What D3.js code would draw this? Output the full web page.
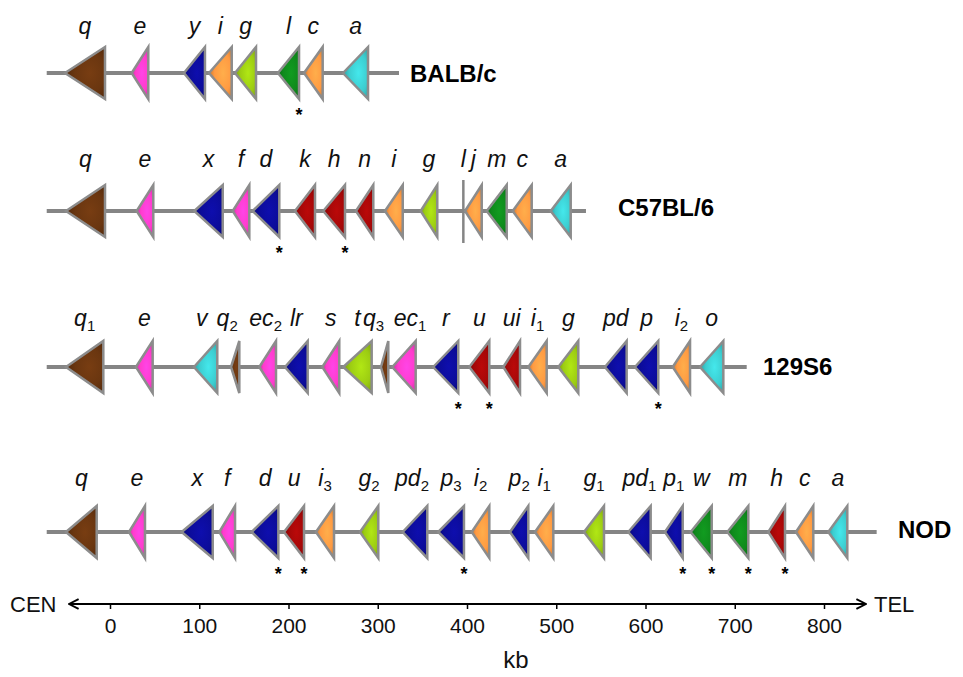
<!DOCTYPE html>
<html><head><meta charset="utf-8">
<script src="https://cdn.jsdelivr.net/npm/d3@7"></script>
<style>
html,body{margin:0;padding:0;background:#fff;}
svg{display:block;font-family:"Liberation Sans",Arial,sans-serif;}
</style></head>
<body><svg id="chart" width="963" height="677"></svg>
<script>
// ---------- DATA (kb) ----------
// gene: [name, subscript, family, start kb, end kb, star]
const strains = ["BALB/c", "C57BL/6", "129S6", "NOD"];
const backboneKb = [[-70.9, 323.8], [-70.9, 533.3], [-70.9, 713.4], [-70.9, 859.0]];
const genesBALB = [
  ["q","","brown",-50.4,-5.6,0],["e","","pink",24.3,42.9,0],["y","","blue",82.9,106.4,0],
  ["i","","orange",110.9,136.4,0],["g","","lime",140.1,163.6,0],["l","","green",188.2,211.8,1],
  ["c","","orange",217.4,238.3,0],["a","","cyan",261.1,289.1,0]
];
const genesC57 = [
  ["q","","brown",-49.3,-5.6,0],["e","","pink",29.9,48.5,0],["x","","blue",94.5,126.3,0],
  ["f","","pink",137.5,156.1,0],["d","","blue",159.9,189.7,1],["k","","red",207.3,229.7,0],
  ["h","","red",239.0,263.3,1],["n","","red",275.6,295.0,0],["i","","orange",308.1,328.0,0],
  ["g","","lime",348.1,366.7,0],["l","","bar",395.9,395.9,0],["j","","orange",397.8,416.5,0],
  ["m","","green",422.1,444.5,0],["c","","orange",451.2,472.5,0],["a","","cyan",493.8,516.2,0]
];
const genes129 = [
  ["q","1","brown",-49.3,-7.5,0],["e","","pink",29.1,47.8,0],["v","","cyan",94.1,120.2,0],
  ["q","2","brown",135.6,144.9,0],["ec","2","pink",167.3,186.0,0],["lr","","blue",196.1,221.5,0],
  ["s","","pink",237.9,256.9,0],["t","","lime",261.4,293.2,0],["q","3","brown",303.6,311.8,0],
  ["ec","1","pink",316.3,342.5,0],["r","","blue",362.2,390.2,1],["u","","red",402.6,425.0,1],
  ["ui","","red",440.7,459.4,0],["i","1","orange",468.7,489.3,0],["g","","lime",502.3,524.7,0],
  ["pd","","blue",554.6,578.9,0],["p","","blue",588.2,614.3,1],["i","2","orange",630.5,649.9,0],
  ["o","","cyan",661.1,687.2,0]
];
const genesNOD = [
  ["q","","brown",-49.3,-14.9,0],["e","","pink",21.3,39.2,0],["x","","blue",80.3,115.1,0],
  ["f","","pink",122.5,140.1,0],["d","","blue",158.8,188.6,1],["u","","red",195.0,217.4,1],
  ["i","3","orange",230.8,251.0,0],["g","2","lime",280.1,300.6,0],["pd","2","blue",328.0,355.5,0],
  ["p","3","blue",367.8,396.6,1],["i","2","orange",405.3,425.0,0],["p","2","blue",448.2,468.7,0],
  ["i","1","orange",476.2,496.7,0],["g","1","lime",531.1,553.5,0],["pd","1","blue",580.7,605.8,0],
  ["p","1","blue",621.8,641.7,1],["w","","green",650.6,674.2,1],["m","","green",691.7,715.2,1],
  ["h","","red",737.6,756.3,1],["c","","orange",768.6,788.0,0],["a","","cyan",804.8,826.1,0]
];
const geneSets = [genesBALB, genesC57, genes129, genesNOD];
const tickValues = [0,100,200,300,400,500,600,700,800];
const axisLabels = {left:"CEN", right:"TEL", unit:"kb"};

// ---------- STYLE / LAYOUT ----------
const familyColor = {brown:"#6a3610", pink:"#ff3ccc", blue:"#0c0c9a", orange:"#ff9a42",
  lime:"#9ccc12", green:"#0f8a1c", cyan:"#3ccdd0", red:"#a50808"};
const rowY = [73, 211, 367, 532];
const geneLabelY = [34, 167, 326, 486];
const strainLabelX = [410, 618, 763, 898];
const strainLabelY = [82, 216, 375, 538];
const labelNudge = {"2:2":-4, "2:3":-8, "2:4":-2, "2:8":-11, "2:9":6, "3:8":-3};
const halfH = 26;

const svg = d3.select("#chart");
const x = d3.scaleLinear().domain([0, 800]).range([110, 824]);

// gradients
const defs = svg.append("defs");
Object.entries(familyColor).forEach(([k, c]) => {
  const g = defs.append("radialGradient").attr("id", "grad-" + k)
    .attr("cx", "62%").attr("cy", "50%").attr("r", "62%");
  g.append("stop").attr("offset", "0%").attr("stop-color", d3.color(c).brighter(0.35).formatHex());
  g.append("stop").attr("offset", "60%").attr("stop-color", c);
  g.append("stop").attr("offset", "100%").attr("stop-color", d3.color(c).darker(0.7).formatHex());
});
defs.append("marker").attr("id","arrow").attr("viewBox","0 0 10 10").attr("refX",9).attr("refY",5)
  .attr("markerWidth",6).attr("markerHeight",6).attr("orient","auto-start-reverse")
  .attr("markerUnits","strokeWidth")
  .append("path").attr("d","M1,1 L9,5 L1,9").attr("fill","none").attr("stroke","#000").attr("stroke-width",1.6);

strains.forEach((name, r) => {
  const y = rowY[r];
  const row = svg.append("g");
  row.append("line").attr("x1", x(backboneKb[r][0])).attr("x2", x(backboneKb[r][1]))
    .attr("y1", y).attr("y2", y).attr("stroke", "#858585").attr("stroke-width", 4);
  const genes = geneSets[r];
  genes.forEach((g, gi) => {
    const [nm, sub, fam, a, b, star] = g;
    const xa = x(a), xb = x(b);
    if (fam === "bar") {
      row.append("line").attr("x1", xa).attr("x2", xa).attr("y1", y - 31).attr("y2", y + 32)
        .attr("stroke", "#858585").attr("stroke-width", 2.5);
    } else {
      row.append("path")
        .attr("d", `M${xa},${y} L${xb},${y - halfH} L${xb},${y + halfH} Z`)
        .attr("fill", `url(#grad-${fam})`).attr("stroke", "#8c8c8c").attr("stroke-width", 2.5)
        .attr("stroke-linejoin", "miter");
    }
    const nudge = labelNudge[r + ":" + gi] || 0;
    const t = row.append("text").attr("x", (xa + xb) / 2 + nudge).attr("y", geneLabelY[r])
      .attr("text-anchor", "middle").attr("font-size", 23).attr("font-style", "italic").attr("fill", "#111");
    t.append("tspan").text(nm);
    if (sub) t.append("tspan").attr("dy", 5).attr("font-size", 15).attr("font-style", "normal").text(sub);
    if (star) {
      row.append("text").attr("x", xb).attr("y", y + 48).attr("text-anchor", "middle")
        .attr("font-size", 18).attr("font-weight", "bold").text("*");
    }
  });
  row.append("text").attr("x", strainLabelX[r]).attr("y", strainLabelY[r])
    .attr("font-size", 24).attr("font-weight", "bold").attr("fill", "#000").text(name);
});

// axis
const axisY = 604;
svg.append("line").attr("x1", 69).attr("x2", 866).attr("y1", axisY).attr("y2", axisY)
  .attr("stroke", "#000").attr("stroke-width", 2)
  .attr("marker-start", "url(#arrow)").attr("marker-end", "url(#arrow)");
const ax = svg.append("g").attr("transform", `translate(0,${axisY})`)
  .call(d3.axisBottom(x).tickValues(tickValues).tickSize(5).tickPadding(9).tickFormat(d3.format("d")));
ax.select(".domain").remove();
ax.selectAll(".tick line").attr("stroke", "#000").attr("stroke-width", 1.5);
ax.selectAll(".tick text").attr("font-size", 21).attr("font-family", "Liberation Sans, Arial, sans-serif")
  .attr("fill", "#111").attr("dy", "0.72em");
svg.append("text").attr("x", 10).attr("y", 612).attr("font-size", 22).attr("fill", "#111").text(axisLabels.left);
svg.append("text").attr("x", 874).attr("y", 612).attr("font-size", 22).attr("fill", "#111").text(axisLabels.right);
svg.append("text").attr("x", 516).attr("y", 668).attr("text-anchor", "middle").attr("font-size", 24)
  .attr("fill", "#111").text(axisLabels.unit);
</script></body></html>
